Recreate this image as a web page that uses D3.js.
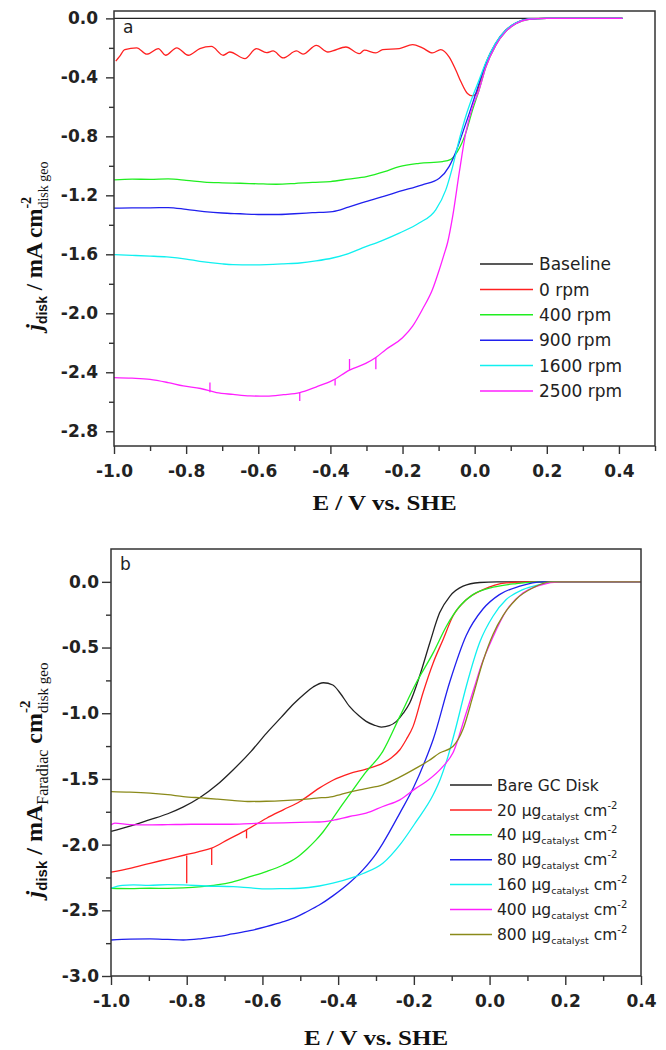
<!DOCTYPE html>
<html>
<head>
<meta charset="utf-8">
<script src="https://cdn.jsdelivr.net/npm/d3@7"></script>
<style>
  body { margin: 0; background: #fff; }
  svg { display: block; }
</style>
</head>
<body>
<svg id="fig" width="666" height="1050"></svg>
<script>
// ---------- Panel a: RDE disk current at different rotation rates ----------
const aBaseline = [[-1.0, 0], [0.41, 0]];
const a0rpm = [[-0.995,-0.29],[-0.985,-0.26],[-0.97,-0.212],[-0.937,-0.20],[-0.909,-0.243],[-0.877,-0.205],[-0.857,-0.25],
  [-0.826,-0.20],[-0.794,-0.25],[-0.762,-0.205],[-0.73,-0.19],[-0.697,-0.25],[-0.679,-0.228],[-0.637,-0.273],[-0.605,-0.205],
  [-0.577,-0.232],[-0.559,-0.221],[-0.531,-0.268],[-0.494,-0.221],[-0.476,-0.243],[-0.439,-0.183],[-0.407,-0.228],[-0.394,-0.221],
  [-0.357,-0.194],[-0.32,-0.239],[-0.306,-0.216],[-0.274,-0.234],[-0.255,-0.212],[-0.209,-0.205],[-0.172,-0.178],[-0.145,-0.20],
  [-0.117,-0.234],[-0.094,-0.212],[-0.071,-0.261],[-0.052,-0.352],[-0.038,-0.43],[-0.02,-0.509],[-0.006,-0.525],[0.003,-0.514],
  [0.015,-0.43],[0.031,-0.306],[0.058,-0.171],[0.086,-0.081],[0.114,-0.032],[0.151,-0.004],[0.2,0],[0.3,0],[0.41,0]];
const a400rpm = [[-1.0,-1.095],[-0.95,-1.09],[-0.9,-1.092],[-0.85,-1.089],[-0.8,-1.098],[-0.75,-1.11],[-0.7,-1.115],
  [-0.65,-1.118],[-0.6,-1.122],[-0.55,-1.125],[-0.5,-1.12],[-0.45,-1.112],[-0.4,-1.107],[-0.35,-1.09],[-0.3,-1.073],
  [-0.25,-1.04],[-0.209,-1.005],[-0.154,-0.983],[-0.089,-0.971],[-0.066,-0.956],[-0.048,-0.904],[-0.025,-0.78],[-0.006,-0.622],
  [0.012,-0.487],[0.031,-0.33],[0.058,-0.185],[0.086,-0.09],[0.114,-0.036],[0.151,-0.006],[0.2,0],[0.41,0]];
const a900rpm = [[-1.0,-1.287],[-0.95,-1.285],[-0.9,-1.285],[-0.85,-1.283],[-0.8,-1.295],[-0.75,-1.31],[-0.7,-1.32],
  [-0.65,-1.325],[-0.6,-1.33],[-0.55,-1.33],[-0.5,-1.325],[-0.45,-1.318],[-0.394,-1.31],[-0.35,-1.28],[-0.302,-1.242],
  [-0.25,-1.205],[-0.209,-1.174],[-0.145,-1.129],[-0.098,-1.084],[-0.071,-1.005],[-0.052,-0.904],[-0.034,-0.78],[-0.015,-0.644],
  [0.003,-0.51],[0.031,-0.306],[0.058,-0.171],[0.086,-0.081],[0.114,-0.032],[0.151,-0.003],[0.2,0],[0.41,0]];
const a1600rpm = [[-1.0,-1.602],[-0.95,-1.607],[-0.9,-1.612],[-0.854,-1.618],[-0.8,-1.632],[-0.762,-1.648],[-0.7,-1.665],
  [-0.67,-1.67],[-0.62,-1.672],[-0.577,-1.67],[-0.53,-1.665],[-0.485,-1.659],[-0.44,-1.645],[-0.394,-1.625],[-0.35,-1.595],
  [-0.311,-1.557],[-0.26,-1.51],[-0.209,-1.456],[-0.154,-1.388],[-0.108,-1.298],[-0.08,-1.163],[-0.061,-1.005],[-0.043,-0.825],
  [-0.025,-0.667],[-0.006,-0.532],[0.012,-0.42],[0.031,-0.3],[0.058,-0.168],[0.086,-0.08],[0.114,-0.03],[0.151,-0.003],[0.2,0],[0.41,0]];
const a2500rpm = [[-1.0,-2.436],[-0.95,-2.44],[-0.9,-2.448],[-0.85,-2.47],[-0.808,-2.493],[-0.76,-2.51],[-0.716,-2.538],
  [-0.67,-2.55],[-0.623,-2.56],[-0.577,-2.562],[-0.53,-2.552],[-0.485,-2.538],[-0.44,-2.5],[-0.394,-2.455],[-0.347,-2.385],
  [-0.302,-2.34],[-0.274,-2.30],[-0.246,-2.245],[-0.2,-2.166],[-0.172,-2.087],[-0.145,-1.974],[-0.117,-1.839],[-0.098,-1.704],
  [-0.085,-1.602],[-0.075,-1.52],[-0.061,-1.343],[-0.043,-1.05],[-0.025,-0.78],[-0.006,-0.6],[0.012,-0.487],[0.031,-0.33],
  [0.058,-0.185],[0.086,-0.09],[0.114,-0.036],[0.151,-0.006],[0.2,0],[0.41,0]];
// glitches in the 2500 rpm trace: [E, j on trace, j at tip]
const a2500Spikes = [[-0.734,-2.535,-2.47],[-0.485,-2.538,-2.594],[-0.387,-2.445,-2.49],[-0.347,-2.385,-2.31],[-0.274,-2.30,-2.38]];

const aNames  = ["Baseline", "0 rpm", "400 rpm", "900 rpm", "1600 rpm", "2500 rpm"];
const aColors = ["#222222", "#ff2020", "#20ee20", "#2020ee", "#10f0f0", "#ff20ff"];

// ---------- Panel b: disk current at different catalyst loadings ----------
const bBare = [[-1.0,-1.90],[-0.95,-1.86],[-0.897,-1.81],[-0.85,-1.765],[-0.81,-1.715],[-0.765,-1.642],[-0.72,-1.545],
  [-0.677,-1.43],[-0.63,-1.29],[-0.589,-1.151],[-0.55,-1.03],[-0.518,-0.93],[-0.49,-0.855],[-0.466,-0.8],[-0.439,-0.768],
  [-0.414,-0.785],[-0.395,-0.846],[-0.37,-0.948],[-0.345,-1.02],[-0.326,-1.062],[-0.305,-1.09],[-0.286,-1.105],[-0.265,-1.095],
  [-0.246,-1.062],[-0.228,-1.0],[-0.211,-0.922],[-0.185,-0.719],[-0.158,-0.465],[-0.132,-0.236],[-0.105,-0.11],[-0.07,-0.033],
  [-0.026,-0.005],[0.02,0],[0.4,0]];
const b20 = [[-1.0,-2.21],[-0.95,-2.18],[-0.897,-2.142],[-0.85,-2.11],[-0.805,-2.079],[-0.77,-2.055],[-0.734,-2.027],
  [-0.69,-1.96],[-0.642,-1.888],[-0.589,-1.799],[-0.545,-1.735],[-0.501,-1.672],[-0.45,-1.57],[-0.414,-1.51],[-0.37,-1.46],
  [-0.326,-1.425],[-0.282,-1.38],[-0.26,-1.34],[-0.237,-1.278],[-0.22,-1.2],[-0.202,-1.1],[-0.176,-0.846],[-0.149,-0.617],
  [-0.123,-0.44],[-0.097,-0.262],[-0.061,-0.135],[-0.017,-0.059],[0.044,-0.008],[0.1,0],[0.4,0]];
const b20Spikes = [[-0.80,-2.082,-2.294],[-0.734,-2.027,-2.155],[-0.642,-1.888,-1.952]];
const b40 = [[-1.0,-2.332],[-0.95,-2.335],[-0.897,-2.332],[-0.85,-2.333],[-0.809,-2.33],[-0.76,-2.32],[-0.721,-2.307],
  [-0.68,-2.285],[-0.633,-2.244],[-0.59,-2.205],[-0.545,-2.155],[-0.51,-2.1],[-0.483,-2.035],[-0.46,-1.97],[-0.439,-1.9],
  [-0.414,-1.8],[-0.39,-1.7],[-0.36,-1.58],[-0.33,-1.46],[-0.282,-1.29],[-0.237,-1.024],[-0.194,-0.77],[-0.149,-0.541],
  [-0.114,-0.338],[-0.079,-0.186],[-0.044,-0.097],[0.009,-0.041],[0.071,-0.013],[0.13,0],[0.4,0]];
const b80 = [[-1.0,-2.726],[-0.95,-2.72],[-0.897,-2.718],[-0.85,-2.722],[-0.809,-2.726],[-0.76,-2.715],[-0.721,-2.701],
  [-0.68,-2.68],[-0.633,-2.655],[-0.59,-2.625],[-0.545,-2.587],[-0.51,-2.55],[-0.483,-2.511],[-0.45,-2.46],[-0.414,-2.39],
  [-0.37,-2.29],[-0.334,-2.19],[-0.3,-2.07],[-0.282,-1.99],[-0.237,-1.76],[-0.2,-1.56],[-0.17,-1.36],[-0.149,-1.2],
  [-0.105,-0.76],[-0.062,-0.41],[-0.017,-0.205],[0.026,-0.097],[0.08,-0.033],[0.14,0],[0.4,0]];
const b160 = [[-1.0,-2.332],[-0.97,-2.31],[-0.941,-2.307],[-0.9,-2.31],[-0.85,-2.305],[-0.809,-2.307],[-0.75,-2.315],
  [-0.677,-2.32],[-0.63,-2.33],[-0.589,-2.337],[-0.545,-2.335],[-0.501,-2.332],[-0.45,-2.315],[-0.414,-2.294],[-0.361,-2.25],
  [-0.334,-2.22],[-0.282,-2.142],[-0.237,-2.002],[-0.194,-1.825],[-0.149,-1.621],[-0.13,-1.5],[-0.11,-1.33],[-0.09,-1.12],
  [-0.062,-0.80],[-0.026,-0.46],[0.009,-0.262],[0.044,-0.135],[0.088,-0.059],[0.132,-0.021],[0.17,0],[0.4,0]];
const b400 = [[-1.0,-1.85],[-0.99,-1.837],[-0.95,-1.848],[-0.897,-1.85],[-0.85,-1.848],[-0.788,-1.845],[-0.74,-1.845],
  [-0.683,-1.845],[-0.63,-1.84],[-0.589,-1.837],[-0.545,-1.834],[-0.501,-1.83],[-0.45,-1.828],[-0.414,-1.815],[-0.37,-1.786],
  [-0.326,-1.761],[-0.282,-1.71],[-0.237,-1.659],[-0.194,-1.57],[-0.167,-1.52],[-0.123,-1.405],[-0.097,-1.303],[-0.062,-1.0],
  [-0.04,-0.8],[-0.02,-0.62],[0.009,-0.42],[0.044,-0.22],[0.088,-0.085],[0.132,-0.026],[0.19,0],[0.4,0]];
const b800 = [[-1.0,-1.596],[-0.95,-1.6],[-0.897,-1.608],[-0.85,-1.62],[-0.809,-1.634],[-0.76,-1.645],[-0.721,-1.654],
  [-0.68,-1.663],[-0.633,-1.672],[-0.59,-1.67],[-0.545,-1.665],[-0.5,-1.657],[-0.457,-1.646],[-0.414,-1.634],[-0.37,-1.6],
  [-0.33,-1.575],[-0.282,-1.545],[-0.24,-1.49],[-0.194,-1.418],[-0.16,-1.36],[-0.132,-1.303],[-0.097,-1.253],[-0.07,-1.12],
  [-0.044,-0.87],[-0.017,-0.6],[0.009,-0.4],[0.036,-0.255],[0.071,-0.13],[0.115,-0.045],[0.16,0],[0.4,0]];

const bLoadings = ["20", "40", "80", "160", "400", "800"];
const bColors = ["#222222", "#ff2020", "#20ee20", "#2020ee", "#10f0f0", "#ff20ff", "#8a8a1a"];

// ---------- ticks ----------
const aXMajor = [-1.0,-0.8,-0.6,-0.4,-0.2,0,0.2,0.4];
const aXMinor = [-0.9,-0.7,-0.5,-0.3,-0.1,0.1,0.3,0.5];
const aYMajor = [0,-0.4,-0.8,-1.2,-1.6,-2.0,-2.4,-2.8];
const aYMinor = [-0.2,-0.6,-1.0,-1.4,-1.8,-2.2,-2.6];
const bXMajor = [-1.0,-0.8,-0.6,-0.4,-0.2,0,0.2,0.4];
const bXMinor = [-0.9,-0.7,-0.5,-0.3,-0.1,0.1,0.3];
const bYMajor = [0,-0.5,-1.0,-1.5,-2.0,-2.5,-3.0];
const bYMinor = [-0.25,-0.75,-1.25,-1.75,-2.25,-2.75];

const svg = d3.select("#fig");
const AX = "#333";
const SANS = "DejaVu Sans";
const SERIF = "Liberation Serif";
const fmt = d => d.toFixed(1);

function panel(o) {
  const x = d3.scaleLinear().domain(o.xDomain).range([o.left, o.right]);
  const y = d3.scaleLinear().domain(o.yDomain).range([o.bottom, o.top]);
  const g = svg.append("g");

  const styleAxis = sel => {
    sel.select(".domain").remove();
    sel.selectAll("line").attr("stroke", AX).attr("stroke-width", 1.4);
    sel.selectAll("text").attr("font-family", SANS).attr("font-weight", "bold")
      .attr("font-size", 17).attr("fill", "#222");
  };
  g.append("g").attr("transform", `translate(0,${o.bottom})`)
    .call(d3.axisBottom(x).tickValues(o.xMinor).tickSize(5).tickFormat("")).call(styleAxis);
  g.append("g").attr("transform", `translate(0,${o.bottom})`)
    .call(d3.axisBottom(x).tickValues(o.xMajor).tickSize(o.tick).tickPadding(o.xPad).tickFormat(fmt)).call(styleAxis);
  g.append("g").attr("transform", `translate(${o.left},0)`)
    .call(d3.axisLeft(y).tickValues(o.yMinor).tickSize(5).tickFormat("")).call(styleAxis);
  g.append("g").attr("transform", `translate(${o.left},0)`)
    .call(d3.axisLeft(y).tickValues(o.yMajor).tickSize(o.tick).tickPadding(o.yPad).tickFormat(fmt)).call(styleAxis);

  const line = d3.line().x(d => x(d[0])).y(d => y(d[1])).curve(d3.curveMonotoneX);
  o.series.forEach((s, i) => {
    g.append("path").datum(s).attr("d", line).attr("fill", "none")
      .attr("stroke", o.colors[i]).attr("stroke-width", 1.3).attr("stroke-linejoin", "round");
  });
  o.spikes.forEach(sp => {
    g.selectAll(null).data(sp.data).enter().append("line")
      .attr("x1", d => x(d[0])).attr("x2", d => x(d[0]))
      .attr("y1", d => y(d[1])).attr("y2", d => y(d[2]))
      .attr("stroke", sp.color).attr("stroke-width", 1.3);
  });

  g.append("rect").attr("x", o.left).attr("y", o.top)
    .attr("width", o.right - o.left).attr("height", o.bottom - o.top)
    .attr("fill", "none").attr("stroke", AX).attr("stroke-width", 1.5);

  g.append("text").attr("x", o.left + 9).attr("y", o.top + o.labelDy).text(o.label)
    .attr("font-family", SANS).attr("font-size", 17).attr("fill", "#222");

  // x-axis title
  const cx = (o.left + o.right) / 2;
  g.append("text").attr("transform", `translate(${cx},${o.xTitleY}) scale(1.25,1)`)
    .attr("text-anchor", "middle").attr("font-family", SERIF).attr("font-weight", "bold")
    .attr("font-size", 20).attr("fill", "#111").text("E / V vs. SHE");
  return { x, y, g };
}

// rotated y-axis title built from pieces; "stack" pieces start where the previous one started
function yTitle(parts, bx, cy, size) {
  const t = svg.append("text").attr("font-family", SERIF).attr("font-weight", "bold")
    .attr("fill", "#111").attr("font-size", size);
  let prev = null, curShift = 0;
  parts.forEach(p => {
    const ts = t.append("tspan").text(p.t);
    if (p.size) ts.attr("font-size", p.size);
    if (p.style) ts.attr("font-style", p.style);
    if (p.weight) ts.attr("font-weight", p.weight);
    if (p.family) ts.attr("font-family", p.family);
    const target = p.shift || 0;
    if (target !== curShift) ts.attr("dy", target - curShift);
    curShift = target;
    if (p.stack && prev) ts.attr("dx", -prev.node().getComputedTextLength());
    prev = ts;
  });
  const bb = t.node().getBBox();
  t.attr("transform", `translate(${bx},${cy}) rotate(-90) translate(${-(bb.x + bb.width / 2)},0)`);
}

// ---------- panel a ----------
panel({
  left: 114, right: 655, top: 11, bottom: 446,
  xDomain: [-1.0, 0.5], yDomain: [-2.9, 0.05],
  xMajor: aXMajor, xMinor: aXMinor, yMajor: aYMajor, yMinor: aYMinor,
  tick: 8, xPad: 11, yPad: 8,
  series: [aBaseline, a0rpm, a400rpm, a900rpm, a1600rpm, a2500rpm], colors: aColors,
  spikes: [{ data: a2500Spikes, color: aColors[5] }],
  label: "a", labelDy: 22, xTitleY: 510
});
yTitle([
  { t: "j", style: "italic" },
  { t: "disk", size: 14, shift: 5, family: "Liberation Sans" },
  { t: " / mA cm", shift: 0 },
  { t: "-2", size: 14, shift: -11 },
  { t: "disk geo", size: 14, shift: 6, weight: "normal", stack: true }
], 42, 248, 23);

// legend a
const legA = svg.append("g");
aNames.forEach((n, i) => {
  const yy = 264 + i * 25.4;
  legA.append("line").attr("x1", 480).attr("x2", 533).attr("y1", yy).attr("y2", yy)
    .attr("stroke", aColors[i]).attr("stroke-width", 1.5);
  legA.append("text").attr("x", 539).attr("y", yy + 6.2).text(n)
    .attr("font-family", SANS).attr("font-size", 17).attr("fill", "#222");
});

// ---------- panel b ----------
panel({
  left: 111, right: 641, top: 549, bottom: 976,
  xDomain: [-1.0, 0.4], yDomain: [-3.0, 0.25],
  xMajor: bXMajor, xMinor: bXMinor, yMajor: bYMajor, yMinor: bYMinor,
  tick: 9, xPad: 10, yPad: 3,
  series: [bBare, b20, b40, b80, b160, b400, b800], colors: bColors,
  spikes: [{ data: b20Spikes, color: bColors[1] }],
  label: "b", labelDy: 21, xTitleY: 1045
});
yTitle([
  { t: "j", style: "italic" },
  { t: "disk", size: 15, shift: 5, family: "Liberation Sans" },
  { t: " / mA", shift: 0 },
  { t: "Faradiac", size: 16, shift: 6, weight: "normal" },
  { t: " cm", shift: 0 },
  { t: "-2", size: 15, shift: -12 },
  { t: "disk geo", size: 15, shift: 6, weight: "normal", stack: true }
], 42, 782, 24);

// legend b
const legB = svg.append("g");
const bLabels = ["Bare GC Disk"].concat(bLoadings);
bLabels.forEach((n, i) => {
  const yy = 785 + i * 24.9;
  legB.append("line").attr("x1", 450).attr("x2", 492).attr("y1", yy).attr("y2", yy)
    .attr("stroke", bColors[i]).attr("stroke-width", 1.5);
  const t = legB.append("text").attr("x", 497).attr("y", yy + 5.6)
    .attr("font-family", SANS).attr("font-size", 15.5).attr("fill", "#222");
  if (i === 0) { t.text(n); return; }
  t.append("tspan").text(n + " \u00b5g");
  t.append("tspan").attr("font-size", 9.5).attr("dy", 4).text("catalyst");
  t.append("tspan").attr("dy", -4).text(" cm");
  t.append("tspan").attr("font-size", 10).attr("dy", -7).text("-2");
});
</script>
</body>
</html>
